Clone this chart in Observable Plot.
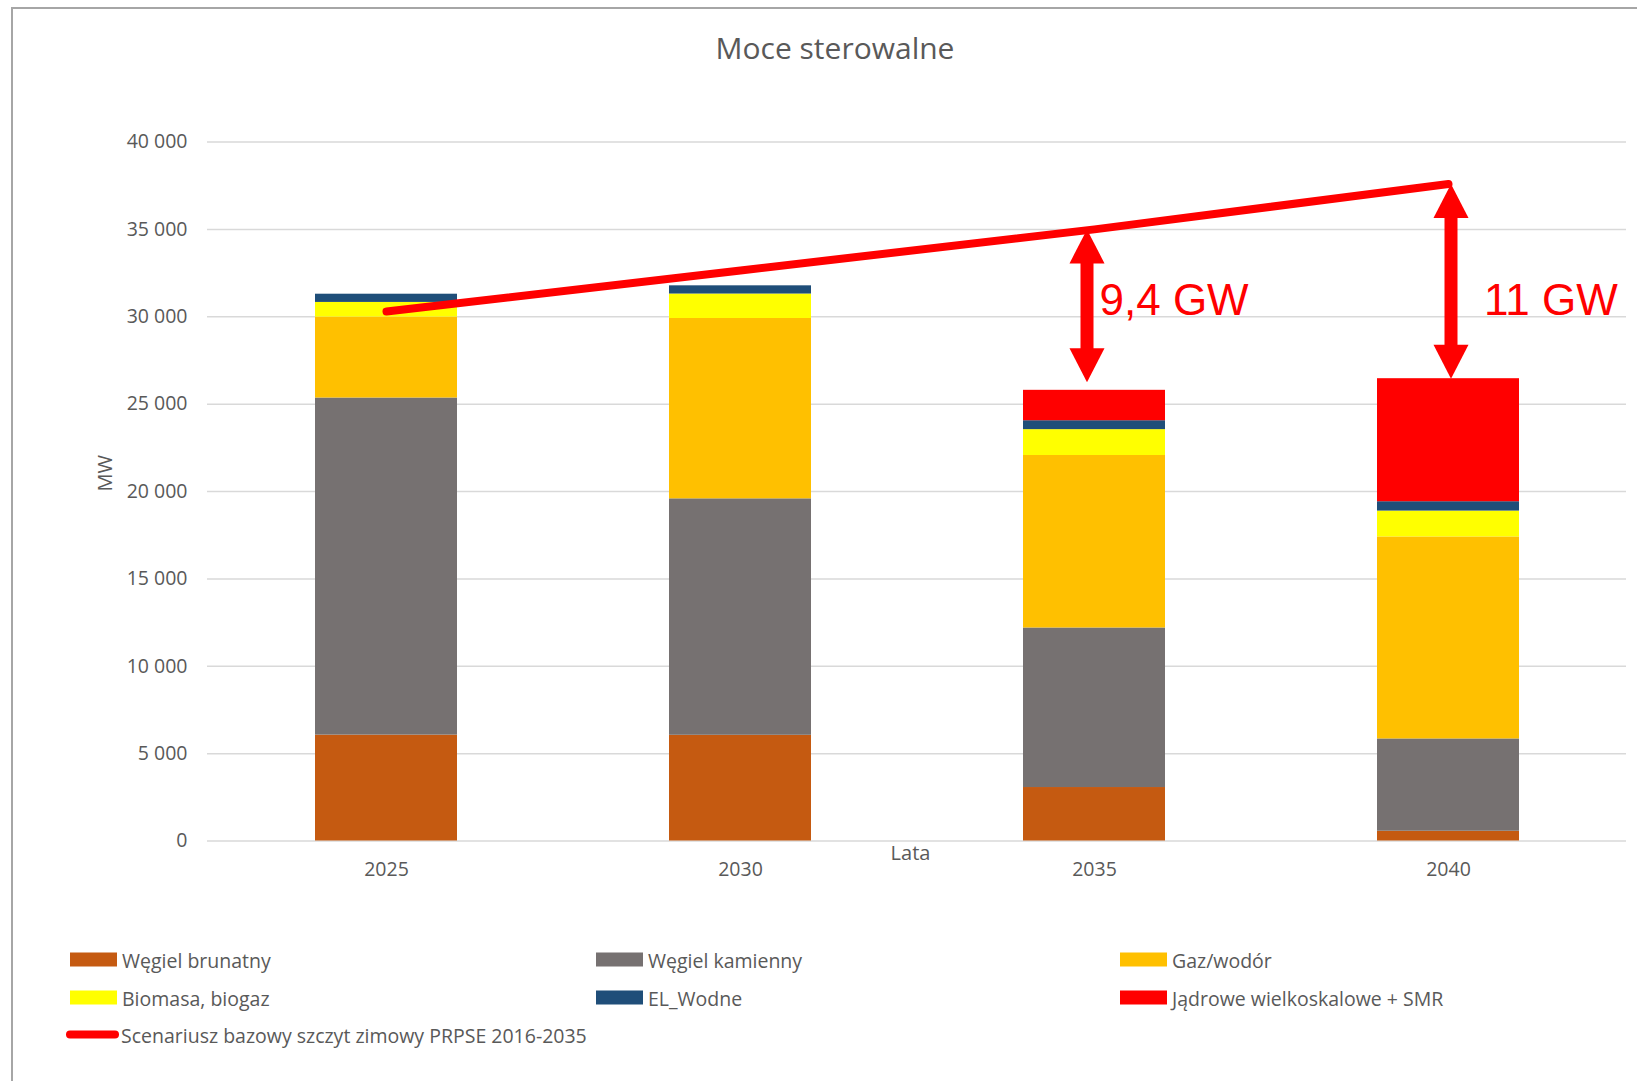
<!DOCTYPE html>
<html>
<head>
<meta charset="utf-8">
<script src="https://cdn.jsdelivr.net/npm/d3@7"></script>
<script src="https://cdn.jsdelivr.net/npm/@observablehq/plot@0.6"></script>
<style>
  body { margin: 0; background: #fff; }
  #wrap { position: relative; width: 1637px; height: 1081px; overflow: hidden; font-family: "Open Sans", sans-serif; color: #595959; }
  #frame { position: absolute; left: 11px; top: 7px; width: 1700px; height: 1200px; border-top: 2px solid #a6a6a6; border-left: 2px solid #a6a6a6; pointer-events: none; }
  #title { position: relative; height: 100px; }
  #title span { position: absolute; left: 835px; top: 47px; transform: translate(-50%, -50%); font-size: 30px; white-space: nowrap; }
  #chart { position: relative; height: 800px; }
  #legend { position: relative; height: 181px; }
  .item { position: absolute; display: flex; align-items: center; font-size: 19.5px; white-space: nowrap; transform: translateY(-50%); }
  .sw { width: 47px; height: 14px; margin-right: 5px; }
  .ln { width: 53px; height: 8px; border-radius: 4px; margin-right: 2px; }
</style>
</head>
<body>
<div id="wrap">
  <div id="title"><span>Moce sterowalne</span></div>
  <div id="chart"></div>
  <div id="legend"></div>
  <div id="frame"></div>
</div>
<script>
// ---- data ----
const years = ["2025", "2030", "2035", "2040"];
const series = ["Węgiel brunatny", "Węgiel kamienny", "Gaz/wodór", "Biomasa, biogaz", "EL_Wodne", "Jądrowe wielkoskalowe + SMR"];
const wegielBrunatny = [6060, 6050, 3060, 560];
const wegielKamienny = [19290, 13530, 9130, 5280];
const gazWodor = [4630, 10320, 9870, 11560];
const biomasaBiogaz = [840, 1400, 1480, 1480];
const elWodne = [470, 470, 510, 535];
const jadrowe = [0, 0, 1740, 7040];
const lineName = "Scenariusz bazowy szczyt zimowy PRPSE 2016-2035";
const szczytZimowy = [30300, 32650, 35000, 37600];
const gapYears = ["2035", "2040"];
const gapLabels = ["9,4 GW", "11 GW"];
const yTicks = [0, 5000, 10000, 15000, 20000, 25000, 30000, 35000, 40000];
const seriesColors = ["#C55A11", "#767171", "#FFC000", "#FFFF00", "#1F4E79", "#FF0000"];
const lineColor = "#FF0000";

// ---- tables ----
const seriesValues = [wegielBrunatny, wegielKamienny, gazWodor, biomasaBiogaz, elWodne, jadrowe];
const rows = years.flatMap((yr, i) => series.map((s, j) => ({year: yr, series: s, value: seriesValues[j][i]})));
const totals = years.map((yr, i) => d3.sum(seriesValues, arr => arr[i]));
const lineRows = years.map((yr, i) => ({year: yr, value: szczytZimowy[i]}));
const gaps = gapYears.map((yr, k) => {
  const i = years.indexOf(yr);
  return {year: yr, label: gapLabels[k], top: szczytZimowy[i], bottom: totals[i], mid: (szczytZimowy[i] + totals[i]) / 2};
});

const fmt = d => d3.format(",")(d).replace(/,/g, "\u00a0");

// arrow head symbols (tip at origin)
const headUp = {draw(ctx) { ctx.moveTo(0, 0); ctx.lineTo(17.5, 34); ctx.lineTo(-17.5, 34); ctx.closePath(); }};
const headDown = {draw(ctx) { ctx.moveTo(0, 0); ctx.lineTo(17.5, -34); ctx.lineTo(-17.5, -34); ctx.closePath(); }};

function arrowMarks(g, dx, offBottom, labelDx, labelDy) {
  return [
    Plot.ruleX([g], {x: "year", y1: "top", y2: "bottom", stroke: lineColor, strokeWidth: 13, dx, insetTop: 24, insetBottom: 24 + offBottom}),
    Plot.dot([g], {x: "year", y: "top", symbol: headUp, r: 5, fill: lineColor, stroke: null, dx}),
    Plot.dot([g], {x: "year", y: "bottom", symbol: headDown, r: 5, fill: lineColor, stroke: null, dx, dy: -offBottom}),
    Plot.text([g], {x: "year", y: "mid", text: "label", textAnchor: "start", dx: labelDx, dy: labelDy,
      fontSize: 44, fontFamily: "Liberation Sans, Arial, sans-serif", fill: lineColor})
  ];
}

const chart = Plot.plot({
  width: 1637,
  height: 800,
  marginLeft: 207,
  marginRight: 11,
  marginTop: 41.5,
  marginBottom: 59.5,
  x: {domain: years, paddingInner: 0.6, paddingOuter: 0.3},
  y: {domain: [0, 40000]},
  color: {domain: series, range: seriesColors},
  style: {fontFamily: "Open Sans, sans-serif", background: "transparent", color: "#595959", overflow: "visible"},
  marks: [
    Plot.gridY(yTicks, {stroke: "#d9d9d9", strokeOpacity: 1, strokeWidth: 1.5}),
    Plot.axisY(yTicks, {tickSize: 0, tickPadding: 20, tickFormat: fmt, fontSize: 19.5, color: "#595959", label: null}),
    Plot.axisX({tickSize: 0, tickPadding: 21, fontSize: 19.5, color: "#595959", label: null}),
    Plot.barY(rows, {x: "year", y: "value", fill: "series"}),
    Plot.line(lineRows, {x: "year", y: "value", stroke: lineColor, strokeWidth: 8, strokeLinecap: "round", strokeLinejoin: "round"}),
    ...arrowMarks(gaps[0], -7.5, 8, 5, -9),
    ...arrowMarks(gaps[1], 2.5, 0, 35.5, 20),
    Plot.text(["Lata"], {frameAnchor: "bottom", text: d => d, dx: -6.5, dy: 18.5, fontSize: 20, fill: "#595959"}),
    Plot.text(["MW"], {frameAnchor: "left", text: d => d, dx: -102, rotate: -90, fontSize: 20, fill: "#595959"})
  ]
});
document.getElementById("chart").appendChild(chart);

// ---- legend ----
const legend = document.getElementById("legend");
const colX = [70, 596, 1120];
const rowY = [59.5, 97.5, 134.5];
series.forEach((s, j) => {
  const el = document.createElement("div");
  el.className = "item";
  el.style.left = colX[j % 3] + "px";
  el.style.top = rowY[Math.floor(j / 3)] + "px";
  const sw = document.createElement("div");
  sw.className = "sw";
  sw.style.background = seriesColors[j];
  el.appendChild(sw);
  el.appendChild(document.createTextNode(s));
  legend.appendChild(el);
});
{
  const el = document.createElement("div");
  el.className = "item";
  el.style.left = "66px";
  el.style.top = rowY[2] + "px";
  const ln = document.createElement("div");
  ln.className = "ln";
  ln.style.background = lineColor;
  el.appendChild(ln);
  el.appendChild(document.createTextNode(lineName));
  legend.appendChild(el);
}
</script>
</body>
</html>
